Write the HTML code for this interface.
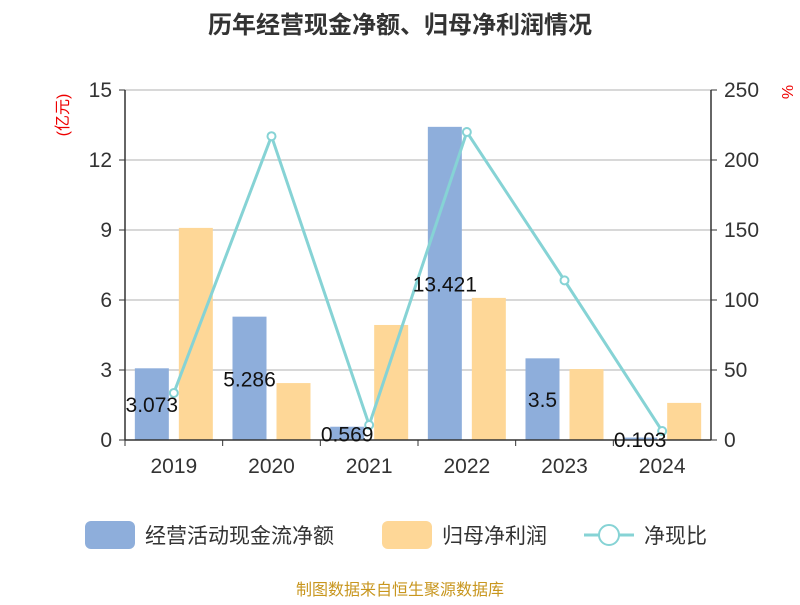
<!DOCTYPE html>
<html><head><meta charset="utf-8"><style>
body{margin:0;background:#fff;}
svg text{font-family:"Liberation Sans","Noto Sans CJK SC",sans-serif;}
</style></head><body>
<svg id="c" width="800" height="600" xmlns="http://www.w3.org/2000/svg">
<text x="400" y="33" text-anchor="middle" font-size="24" font-weight="bold" fill="#333">历年经营现金净额、归母净利润情况</text>
<text transform="translate(68,115) rotate(-90)" text-anchor="middle" font-size="16" fill="#e00">(亿元)</text>
<text transform="translate(782,92) rotate(90)" text-anchor="middle" font-size="16" fill="#e00">%</text>
<g id="grid"></g><g id="bars"></g><g id="line"></g><g id="axes"></g><g id="labels"></g>
<g>
<rect x="85" y="521" width="50" height="28" rx="6" fill="#8eaedb"/>
<text x="145" y="543" font-size="21" fill="#333">经营活动现金流净额</text>
<rect x="382" y="521" width="50" height="28" rx="6" fill="#fed797"/>
<text x="442" y="543" font-size="21" fill="#333">归母净利润</text>
<line x1="584" y1="535" x2="634" y2="535" stroke="#86d3d5" stroke-width="3"/>
<circle cx="609" cy="535" r="10" fill="#fff" stroke="#86d3d5" stroke-width="2"/>
<text x="644" y="543" font-size="21" fill="#333">净现比</text>
</g>
<text x="400" y="595" text-anchor="middle" font-size="16" fill="#c8961e">制图数据来自恒生聚源数据库</text>
</svg>
<script>
const categories=["2019","2020","2021","2022","2023","2024"];
const cashflow=[3.073,5.286,0.569,13.421,3.5,0.103];
const cashLabels=["3.073","5.286","0.569","13.421","3.5","0.103"];
const profit=[9.09,2.44,4.93,6.09,3.04,1.59];
const ratio=[33.6,217,10.7,220,114,6.4];
const leftTicks=[0,3,6,9,12,15];
const rightTicks=[0,50,100,150,200,250];
const NS="http://www.w3.org/2000/svg";
const X0=125,X1=711,Y0=440,Y1=90,bw=(X1-X0)/categories.length;
const yL=v=>Y0-(v/15)*(Y0-Y1), yR=v=>Y0-(v/250)*(Y0-Y1), xc=i=>X0+bw*(i+0.5);
function mk(t,a,p){const e=document.createElementNS(NS,t);for(const k in a)e.setAttribute(k,a[k]);document.getElementById(p).appendChild(e);return e;}
leftTicks.forEach((t,i)=>{
 const y=yL(t);
 if(t>0){const g=mk("line",{x1:X0,x2:X1,y1:y,y2:y,stroke:"#ccc","stroke-width":1.5},"grid");
 
 }
 const tk=mk("line",{x1:X0-6,x2:X0,y1:y,y2:y,stroke:"#333"},"axes");
 
 
 const tx=mk("text",{x:X0-13,y:y+7,"text-anchor":"end","font-size":21,fill:"#333"},"axes");tx.textContent=t;
 
 
});
rightTicks.forEach(t=>{
 const y=yR(t);
 const tk=mk("line",{x1:X1,x2:X1+6,y1:y,y2:y,stroke:"#333"},"axes");
 
 
 const tx=mk("text",{x:X1+13,y:y+7,"font-size":21,fill:"#333"},"axes");tx.textContent=t;
 
 
});
let a=mk("line",{x1:X0,x2:X0,y1:Y1,y2:Y0,stroke:"#333","stroke-width":1.5},"axes");


a=mk("line",{x1:X1,x2:X1,y1:Y1,y2:Y0,stroke:"#333","stroke-width":1.5},"axes");


a=mk("line",{x1:X0,x2:X1,y1:Y0,y2:Y0,stroke:"#333","stroke-width":1.5},"axes");


categories.forEach((c,i)=>{
 const xb=X0+bw*i;
 const tk=mk("line",{x1:xb,x2:xb,y1:Y0,y2:Y0+6,stroke:"#333"},"axes");
 
 
 const tx=mk("text",{x:xc(i),y:Y0+33,"text-anchor":"middle","font-size":21,fill:"#333"},"axes");tx.textContent=c;
 
 
 const b1=mk("rect",{x:xc(i)-39,y:yL(cashflow[i]),width:34,height:Y0-yL(cashflow[i]),fill:"#8eaedb"},"bars");
 
 
 const b2=mk("rect",{x:xc(i)+5,y:yL(profit[i]),width:34,height:Y0-yL(profit[i]),fill:"#fed797"},"bars");
 
 
 const lb=mk("text",{x:xc(i)-22,y:(yL(cashflow[i])+Y0)/2+8,"text-anchor":"middle","font-size":21,fill:"#111"},"labels");lb.textContent=cashLabels[i];
 
 
});
const pl=mk("polyline",{points:ratio.map((v,i)=>xc(i)+","+yR(v)).join(" "),fill:"none",stroke:"#86d3d5","stroke-width":3},"line");


ratio.forEach((v,i)=>{
 const p=mk("circle",{cx:xc(i),cy:yR(v),r:4,fill:"#fff",stroke:"#86d3d5","stroke-width":2},"line");
 
 
});
</script>
</body></html>
